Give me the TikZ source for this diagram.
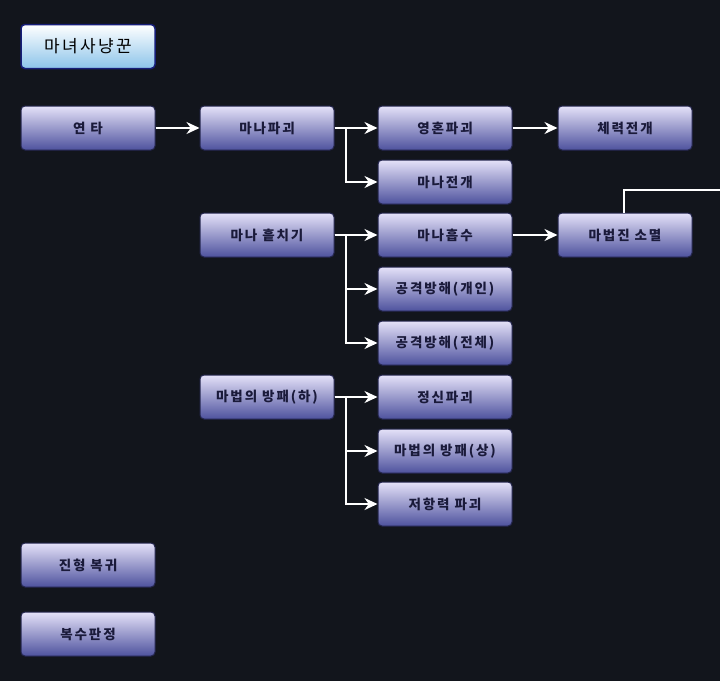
\documentclass[tikz,border=0pt]{standalone}
\usepackage{fontspec}
\newfontfamily\kr[LetterSpace=14]{Noto Sans CJK KR}
\usetikzlibrary{arrows.meta}
\definecolor{bg}{RGB}{18,21,28}
\definecolor{boxtop}{RGB}{228,225,248}
\definecolor{boxmid}{RGB}{158,154,212}
\definecolor{boxbot}{RGB}{78,82,158}
\definecolor{boxline}{RGB}{36,38,78}
\definecolor{ink}{RGB}{26,26,58}
\definecolor{titlebot}{RGB}{140,196,234}
\definecolor{titleline}{RGB}{22,30,120}
\tikzset{
	skill/.style={rounded corners=4, minimum width=134, minimum height=44, inner sep=0,
		top color=boxtop, middle color=boxmid, bottom color=boxbot, draw=boxline, line width=1,
		text=ink, font=\kr\bfseries\fontsize{13.5}{13.5}\selectfont},
	title/.style={skill, top color=white, middle color=white!85!titlebot, bottom color=titlebot,
		draw=titleline, line width=1.5, text=black, font=\kr\fontsize{17}{17}\selectfont},
	link/.style={draw=white, line width=2}
}
\begin{document}
\begin{tikzpicture}[x=1pt, y=-1pt, >={Stealth[length=13pt,width=12pt]}]
	\fill[bg] (0,0) rectangle (720,681);
	\useasboundingbox (0,0) rectangle (720,681);
	\node[title] (mnsn) at (88,46.5) {마녀사냥꾼};
	% first column
	\node[skill] (yt) at (88,128) {연 타};
	\node[skill] (jhbg) at (88,565) {진형 복귀};
	\node[skill] (bspj) at (88,634) {복수판정};
	% second column
	\node[skill] (mnpg) at (267,128) {마나파괴};
	\node[skill] (mnhc) at (267,235) {마나 흩치기};
	\node[skill] (mbh) at (267,397) {마법의 방패(하)};
	% third column
	\node[skill] (yhpg) at (445,128) {영혼파괴};
	\node[skill] (mnjg) at (445,182) {마나전개};
	\node[skill] (mnhs) at (445,235) {마나흡수};
	\node[skill] (gkbh) at (445,289) {공격방해(개인)};
	\node[skill] (gjbh) at (445,343) {공격방해(전체)};
	\node[skill] (jspg) at (445,397) {정신파괴};
	\node[skill] (mbs) at (445,451) {마법의 방패(상)};
	\node[skill] (jhpg) at (445,504) {저항력 파괴};
	% fourth column
	\node[skill] (crjg) at (625,128) {체력전개};
	\node[skill] (mjsm) at (625,235) {마법진 소멸};
	\coordinate (out) at (720,190);

	\draw[link,->] (yt) -- (mnpg);
	\draw[link,->] (mnpg) -- (yhpg);
	\draw[link,->] (mnpg.east) -- ++(11,0) |- (mnjg.west);
	\draw[link,->] (yhpg) -- (crjg);
	\draw[link,->] (mnhc) -- (mnhs);
	\draw[link,->] (mnhc.east) -- ++(11,0) |- (gkbh.west);
	\draw[link,->] (mnhc.east) -- ++(11,0) |- (gjbh.west);
	\draw[link,->] (mnhs) -- (mjsm);
	\draw[link,->] (mbh) -- (jspg);
	\draw[link,->] (mbh.east) -- ++(11,0) |- (mbs.west);
	\draw[link,->] (mbh.east) -- ++(11,0) |- (jhpg.west);
	\draw[link] ([xshift=-1]mjsm.north) |- (out);
\end{tikzpicture}
\end{document}
